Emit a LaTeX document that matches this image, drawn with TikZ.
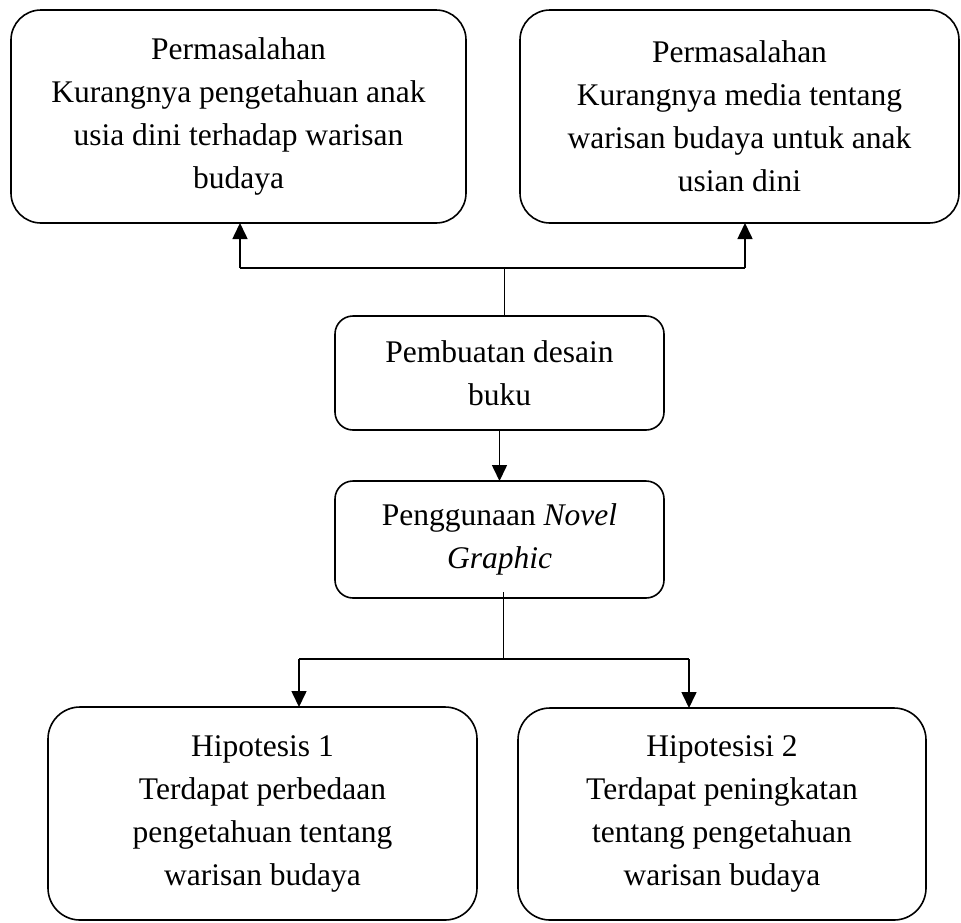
\documentclass[tikz,border=0pt]{standalone}
\usepackage{fontspec}
\setmainfont{Liberation Serif}
\usetikzlibrary{arrows.meta}
\begin{document}
\begin{tikzpicture}[x=1pt,y=-1pt,
  boxstyle/.style={draw, line width=1.6pt, rectangle, inner sep=0pt, outer sep=0pt,
    align=center, font=\fontsize{31.5}{43}\selectfont},
  bigbox/.style={boxstyle, rounded corners=30pt},
  lowbox/.style={boxstyle, rounded corners=32pt},
  midbox/.style={boxstyle, rounded corners=18pt},
  conn/.style={line width=1.6pt},
  stem/.style={line width=0.9pt},
  arr/.style={line width=1.6pt, -{Triangle[length=16pt,width=15pt]}}]
\useasboundingbox (0,0) rectangle (961,922);

\node[bigbox, minimum width=455pt, minimum height=213pt] (tl) at (238.5,116.5)
  {Permasalahan\\Kurangnya pengetahuan anak\\usia dini terhadap warisan\\budaya};
\node[bigbox, minimum width=439pt, minimum height=213pt] (tr) at (739.5,116.5)
  {Permasalahan\\Kurangnya media tentang\\warisan budaya untuk anak\\usian dini};
\node[midbox, minimum width=329pt, minimum height=114pt] (m1) at (499.5,373)
  {Pembuatan desain\\buku};
\node[midbox, minimum width=329pt, minimum height=117pt] (m2) at (499.5,539.5)
  {Penggunaan \textit{Novel}\\\textit{Graphic}};
\node[lowbox, minimum width=429pt, minimum height=213pt] (bl) at (262.5,813.5)
  {Hipotesis 1\\Terdapat perbedaan\\pengetahuan tentang\\warisan budaya};
\node[lowbox, minimum width=408pt, minimum height=212pt] (br) at (722,814)
  {Hipotesisi 2\\Terdapat peningkatan\\tentang pengetahuan\\warisan budaya};

% top connectors
\coordinate (jt) at (504,268);
\coordinate (tla) at (240,268);
\coordinate (tra) at (745,268);
\draw[stem] (m1.north -| jt) -- (jt);
\draw[conn] (tla) -- (tra);
\draw[arr] (tla) -- (tla |- tl.south);
\draw[arr] (tra) -- (tra |- tr.south);

% middle connector
\draw[arr] (m1.south) -- (m2.north);

% bottom connectors
\coordinate (jb) at (503,659);
\coordinate (bla) at (299,659);
\coordinate (bra) at (689,659);
\draw[stem] ([yshift=6pt]m2.south -| jb) -- (jb);
\draw[conn] (bla) -- (bra);
\draw[arr] (bla) -- (bla |- bl.north);
\draw[arr] (bra) -- (bra |- br.north);
\end{tikzpicture}
\end{document}
